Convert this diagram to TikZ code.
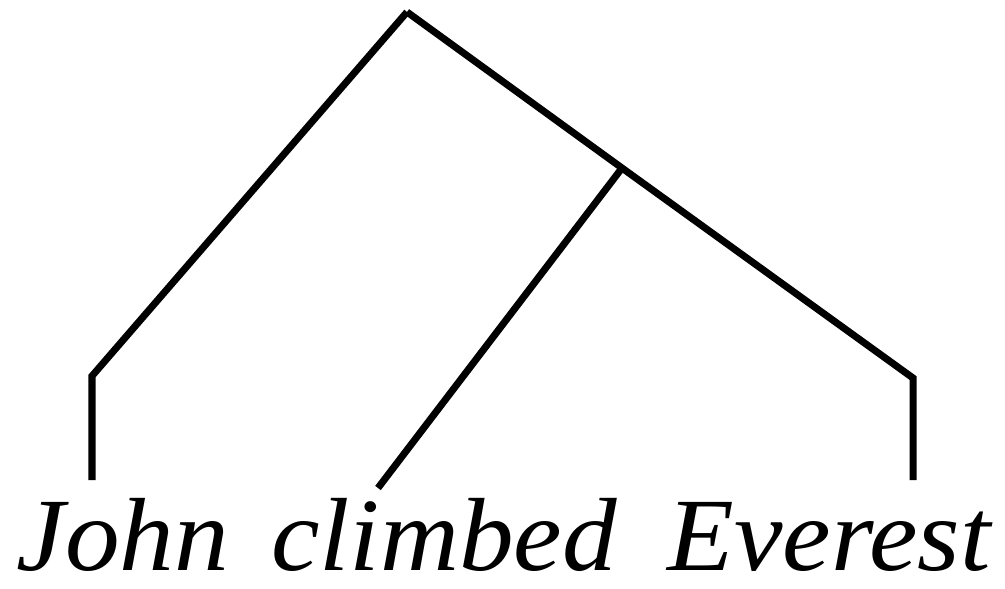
\documentclass[tikz,border=0pt]{standalone}
\usepackage{fontspec}
\setmainfont[FakeStretch=1.05]{Liberation Serif}
\usepackage{tikz}
\usetikzlibrary{positioning, calc}

\begin{document}
\begin{tikzpicture}[
        branch/.style={line width=2pt, line cap=butt, line join=miter},
        word/.style={anchor=base, inner sep=0pt,
                     font=\fontsize{29.6}{32}\selectfont\itshape}
      ]
      \useasboundingbox (0,0) rectangle (10.05,5.88);
      % words
      \node[word] (john)    at (1.23,0.18) {John};
      \node[word] (climbed) at (4.44,0.18) {climbed};
      \node[word] (everest) at (8.29,0.18) {Everest};
      % tree points
      \coordinate (root)  at (4.07,5.76);
      \coordinate (vp)    at (6.22,4.20);
      \coordinate (lbend) at (0.92,2.12);
      \coordinate (rbend) at (9.13,2.10);
      \coordinate (lend)  at (0.92,1.08);
      \coordinate (mend)  at (3.78,1.00);
      \coordinate (rend)  at (9.13,1.08);
      \draw[branch] (root) -- (lbend) -- (lend);
      \draw[branch] (root) -- (vp) -- (rbend) -- (rend);
      \draw[branch] (vp) -- (mend);
    \end{tikzpicture}
\end{document}
